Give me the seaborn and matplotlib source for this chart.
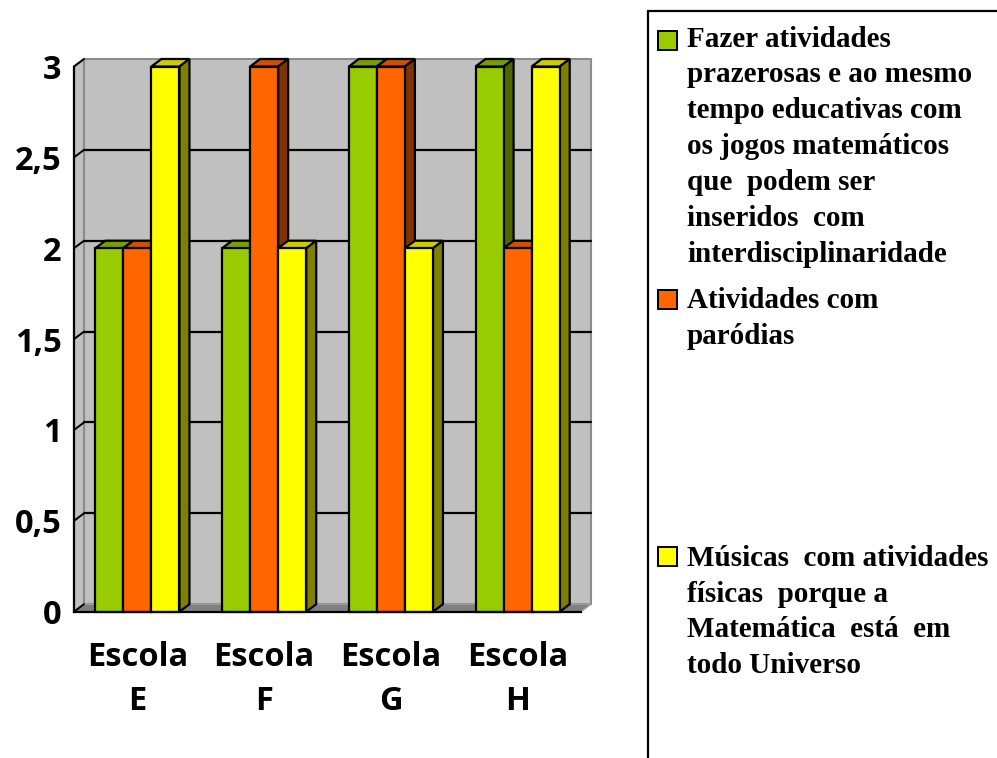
import numpy as np
import pandas as pd
import matplotlib
matplotlib.use("Agg")
import matplotlib.pyplot as plt
from matplotlib.patches import Polygon, Rectangle
import seaborn as sns

# ---- data -------------------------------------------------------------
escolas = ["Escola\nE", "Escola\nF", "Escola\nG", "Escola\nH"]
series_names = [
    "Fazer atividades prazerosas",
    "Atividades com paródias",
    "Músicas com atividades físicas",
]
fazer_atividades = [2, 2, 3, 3]
atividades_parodias = [2, 3, 3, 2]
musicas_fisicas = [3, 2, 2, 3]
y_ticks = [0, 0.5, 1, 1.5, 2, 2.5, 3]
y_tick_labels = ["0", "0,5", "1", "1,5", "2", "2,5", "3"]

legend_lines = [
    ["Fazer atividades", "prazerosas e ao mesmo", "tempo educativas com",
     "os jogos matemáticos", "que  podem ser", "inseridos  com",
     "interdisciplinaridade"],
    ["Atividades com", "paródias"],
    ["Músicas  com atividades", "físicas  porque a",
     "Matemática  está  em", "todo Universo"],
]

front_colors = ["#99CC00", "#FF6600", "#FFFF00"]
top_colors = ["#7A9E00", "#CC5200", "#CCCC00"]
side_colors = ["#4D6600", "#803300", "#808000"]

df = pd.DataFrame({
    "escola": escolas * 3,
    "serie": np.repeat(series_names, len(escolas)),
    "valor": fazer_atividades + atividades_parodias + musicas_fisicas,
})

# ---- figure -----------------------------------------------------------
W, H = 997, 758
sns.set_style("white")
plt.rcParams["font.family"] = ["DejaVu Sans"]
plt.rcParams["text.color"] = "black"
plt.rcParams["xtick.color"] = "black"
plt.rcParams["ytick.color"] = "black"
fig = plt.figure(figsize=(W / 100, H / 100), dpi=100)

x_left, x_right = 74.0, 581.0
y_zero, y_top = 611.7, 66.5
ax = fig.add_axes([x_left / W, (H - y_zero) / H,
                   (x_right - x_left) / W, (y_zero - y_top) / H])
ax.set_facecolor("none")

sns.barplot(data=df, x="escola", y="valor", hue="serie",
            hue_order=series_names, palette=front_colors,
            width=0.664, gap=0, dodge=True, ax=ax,
            edgecolor="black", linewidth=1.6, saturation=1, legend=False)

ax.set_xlim(-0.5, 3.5)
ax.set_ylim(0, 3)

# depth offsets of the pseudo-3D effect, converted from pixels to data units
px_x = 4.0 / (x_right - x_left)
px_y = 3.0 / (y_zero - y_top)
dx, dy = 10.0 * px_x, 7.5 * px_y

# walls and floor
ax.add_patch(Rectangle((-0.5 + dx, dy), 4, 3, facecolor="#C0C0C0",
                       edgecolor="#8C8C8C", linewidth=1.5, zorder=0.5,
                       clip_on=False))
ax.add_patch(Polygon([(-0.5, 0), (-0.5 + dx, dy), (-0.5 + dx, 3 + dy), (-0.5, 3)],
                     closed=True, facecolor="#C0C0C0", edgecolor="#8C8C8C",
                     linewidth=1.5, zorder=0.6, clip_on=False))
ax.add_patch(Polygon([(-0.5, 0), (3.5, 0), (3.5 + dx, dy), (-0.5 + dx, dy)],
                     closed=True, facecolor="#808080", edgecolor="#A0A0A0",
                     linewidth=1.0, zorder=0.6, clip_on=False))

# gridlines on the back wall and the slanted tick connectors
for v in y_ticks[1:-1]:
    ax.plot([-0.5 + dx, 3.5 + dx], [v + dy, v + dy], color="black",
            lw=1.6, zorder=0.8, clip_on=False)
for v in y_ticks:
    ax.plot([-0.5, -0.5 + dx], [v, v + dy], color="black", lw=1.4,
            zorder=0.9, clip_on=False)

# tops and right-hand faces of every bar
for k, container in enumerate(ax.containers):
    for bar in container:
        x0 = bar.get_x()
        x1 = x0 + bar.get_width()
        h = bar.get_height()
        base = 3 + k * 0.1
        bar.set_zorder(base + 0.05)
        bar.set_clip_on(False)
        ax.add_patch(Polygon([(x0, h), (x0 + dx, h + dy), (x1 + dx, h + dy), (x1, h)],
                             closed=True, facecolor=top_colors[k],
                             edgecolor="black", linewidth=1.6,
                             zorder=base, clip_on=False))
        ax.add_patch(Polygon([(x1, 0), (x1 + dx, dy), (x1 + dx, h + dy), (x1, h)],
                             closed=True, facecolor=side_colors[k],
                             edgecolor="black", linewidth=1.6,
                             zorder=base, clip_on=False))

# axes, ticks and labels
for side in ["top", "right"]:
    ax.spines[side].set_visible(False)
for side in ["left", "bottom"]:
    ax.spines[side].set_color("black")
    ax.spines[side].set_linewidth(1.6)
    ax.spines[side].set_zorder(10)

tick_font = dict(family=["Open Sans", "DejaVu Sans"], weight="bold", size=23.5,
                 color="black")
ax.set_yticks(y_ticks)
ax.set_yticklabels(y_tick_labels, **tick_font)
ax.tick_params(axis="y", direction="out", length=6, width=1.4, pad=3,
               color="black")
ax.set_xticks(range(len(escolas)))
ax.set_xticklabels(escolas, linespacing=1.45, **tick_font)
ax.set_xticks(np.arange(-0.5, 4.0, 1.0), minor=True)
ax.tick_params(axis="x", which="major", length=0, pad=21)
ax.tick_params(axis="x", which="minor", direction="out", length=8,
               width=1.4, color="black")
ax.set_xlabel("")
ax.set_ylabel("")

# ---- legend box ------------------------------------------------------
fig.patches.append(Rectangle((648 / W, 1 - 1200 / H), 800 / W, (1200 - 11) / H,
                             transform=fig.transFigure, facecolor="none",
                             edgecolor="black", linewidth=1.6))

legend_font = dict(family=["Liberation Serif", "DejaVu Serif"], weight="bold",
                   size=21, color="black")
first_baselines = [46.7, 308.3, 565.7]
squares_top = [31, 290, 547]
line_step = 35.8
for k, lines in enumerate(legend_lines):
    fig.patches.append(Rectangle((658 / W, 1 - (squares_top[k] + 19) / H),
                                 19 / W, 19 / H, transform=fig.transFigure,
                                 facecolor=front_colors[k], edgecolor="black",
                                 linewidth=1.4))
    for i, line in enumerate(lines):
        fig.text(687 / W, 1 - (first_baselines[k] + i * line_step) / H, line,
                 ha="left", va="baseline", **legend_font)

fig.savefig("out.png", dpi=100)
